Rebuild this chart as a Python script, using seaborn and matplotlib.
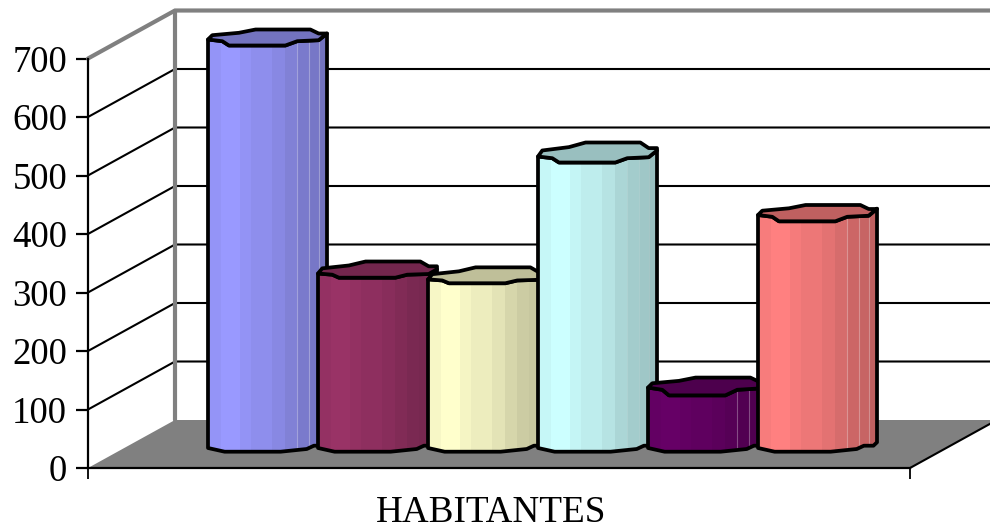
import matplotlib
matplotlib.use("Agg")
import matplotlib.pyplot as plt
import seaborn as sns
from matplotlib.colors import to_rgb
from matplotlib.patches import Polygon, Rectangle

series = ["A", "B", "C", "D", "E", "F"]
habitantes = [700, 300, 290, 500, 105, 400]
colors = ["#9999FF", "#993366", "#FFFFCC", "#CCFFFF", "#660066", "#FF8080"]
y_ticks = [0, 100, 200, 300, 400, 500, 600, 700]

sns.set_theme(style="white")
plt.rcParams["font.family"] = ["Liberation Serif", "DejaVu Serif"]

W, H = 990, 529
fig = plt.figure(figsize=(W / 100, H / 100), dpi=100, facecolor="white")

# px sizes of the fake 3d box
y_span = 409.5
depth_x = 87 / 822
depth_y = 48 * 700 / y_span
GREY = "#808080"

# wall axes holds the y axis, floor and the gridlines
wall = fig.add_axes([88 / W, (H - 468) / H, 822 / W, y_span / H])
wall.set_xlim(0, 1)
wall.set_ylim(0, 700)
wall.set_facecolor("none")
sns.despine(ax=wall)
for s in ["left", "bottom"]:
    wall.spines[s].set_color("black")
    wall.spines[s].set_linewidth(1.6)
    wall.spines[s].set_zorder(6)
wall.set_yticks(y_ticks)
wall.set_xticks([0, 1])
wall.set_xticklabels(["", ""])
wall.tick_params(axis="y", length=8.5, width=1.6, color="black", left=True, pad=6.5,
    labelsize=26.5, labelcolor="black")
wall.tick_params(axis="x", length=8, width=1.3, color="black", bottom=True)
wall.set_xlabel("HABITANTES", fontsize=26.7, color="black", va="top")
wall.xaxis.set_label_coords((491.5 - 88) / 822, -0.066)

wall.add_patch(Polygon([(0, 0), (depth_x, depth_y), (1 + depth_x, depth_y), (1, 0)],
    closed=True, fc=GREY, ec="none", clip_on=False, zorder=1))
wall.plot([1, 1 + depth_x], [0, depth_y], color="black", lw=1.5, clip_on=False, zorder=2)

for t in y_ticks[1:-1]:
    wall.plot([0, depth_x, 1 + depth_x], [t, t + depth_y, t + depth_y],
        color="black", lw=1.5, clip_on=False, zorder=2)
wall.plot([0, depth_x, 1 + depth_x], [700, 700 + depth_y, 700 + depth_y],
    color=GREY, lw=3, clip_on=False, zorder=3, solid_joinstyle="miter")
wall.plot([depth_x, depth_x], [depth_y, 700 + depth_y], color=GREY, lw=3, clip_on=False, zorder=3)

# bar axes, bars are 119 px wide on a 110 px pitch so they overlap
ax = fig.add_axes([212.5 / W, (H - 449) / H, 660 / W, y_span / H])
ax.set_facecolor("none")
sns.barplot(x=series, y=habitantes, hue=series, palette=colors, width=119 / 110,
    saturation=1, legend=False, ax=ax)
ax.set_xlim(-0.5, 5.5)
ax.set_ylim(0, 700)
ax.axis("off")

# outline shapes: (fraction of bar width, px below the corner)
top_back = [(0, 0), (0.036, -4.3), (0.26, -6.7), (0.40, -10), (0.86, -10), (0.93, -6), (1, -6)]
top_front = [(0, 0), (0.12, 1.7), (0.176, 6), (0.65, 6), (0.75, 1.7), (0.93, 0.7), (1, -6)]
bottom = [(0, -1), (0.14, 2.7), (0.61, 2.7), (0.83, 0), (0.89, -3.3), (0.97, -3.3), (1, -6.7)]
band_edges = [0, 0.11, 0.265, 0.365, 0.535, 0.65, 0.75, 0.85, 0.93, 1]
band_shade = [0.97, 1.0, 0.96, 0.93, 0.89, 0.84, 0.80, 0.78, 0.75]
shine_at = [0.75, 0.85, 0.93]
shine_alpha = [0.3, 0, 0, 0.12, 0.3, 0.3]
back_scale = [1, 1.2, 1.2, 1.4, 1, 1]
front_scale = [1, 0.7, 0.65, 1, 1.3, 1.05]

px_y = 700 / y_span


def shade(color, k):
    return tuple(c * k for c in to_rgb(color))


for i, bar in enumerate(ax.patches[:len(series)]):
    x0, w, h = bar.get_x(), bar.get_width(), bar.get_height()
    z = 10 + 10 * i

    def pts(shape, base, scale=1):
        return [(x0 + u * w, base - d * scale * px_y) for u, d in shape]

    front = pts(top_front, h, front_scale[i])
    back = pts(top_back, h, back_scale[i])
    low = pts(bottom, 0)

    body = Polygon(front + low[::-1], closed=True, fc="none", ec="black", lw=2.7,
        clip_on=False, zorder=z + 3, joinstyle="round")
    ax.add_patch(body)

    bar.set_edgecolor("none")
    bar.set_zorder(z)
    bar.set_clip_path(body)
    bar.set_clip_box(None)

    for j, k in enumerate(band_shade):
        band = Rectangle((x0 + band_edges[j] * w, -30 * px_y),
            (band_edges[j + 1] - band_edges[j]) * w + 0.002, h + 60 * px_y,
            fc=shade(colors[i], k), ec="none", zorder=z + 1)
        ax.add_patch(band)
        band.set_clip_path(body)
        band.set_clip_box(None)

    if shine_alpha[i] > 0:
        for u in shine_at:
            line, = ax.plot([x0 + u * w] * 2, [0, h], color="white", alpha=shine_alpha[i], lw=0.8,
                zorder=z + 2)
            line.set_clip_path(body)
            line.set_clip_box(None)

    ax.add_patch(Polygon(back + front[::-1], closed=True, fc=shade(colors[i], 0.75), ec="black",
        lw=2.7, clip_on=False, zorder=z + 4, joinstyle="round"))

fig.savefig("out.png", dpi=100, facecolor="white")
